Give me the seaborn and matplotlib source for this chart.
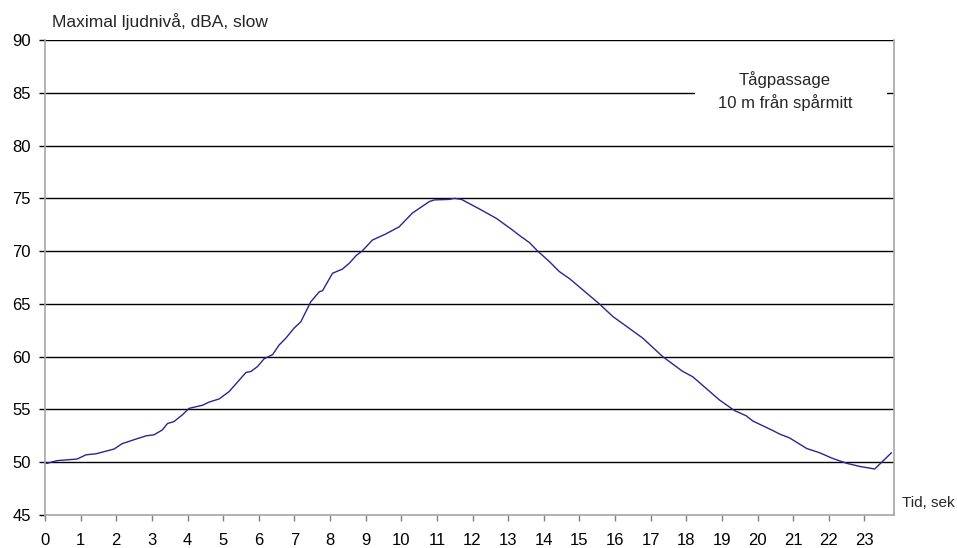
import matplotlib
matplotlib.use("Agg")
import matplotlib.pyplot as plt
import matplotlib.patches as mpatches
import seaborn as sns
import pandas as pd

# Data
time_s = [0.0, 0.06, 0.34, 0.9, 1.15, 1.43, 1.94, 2.16, 2.56, 2.84, 3.06, 3.29, 3.44, 3.62,
          3.86, 4.04, 4.42, 4.61, 4.89, 5.17, 5.64, 5.78, 5.96, 6.15, 6.39, 6.57, 6.76,
          6.99, 7.18, 7.46, 7.7, 7.79, 8.07, 8.35, 8.54, 8.74, 8.9, 9.19, 9.55, 9.94,
          10.31, 10.79, 10.93, 11.35, 11.49, 11.69, 12.19, 12.67, 13.12, 13.31, 13.6,
          13.83, 14.16, 14.44, 14.72, 15.56, 15.94, 16.31, 16.78, 17.34, 17.9, 18.18,
          18.93, 19.35, 19.68, 19.87, 20.43, 20.62, 20.9, 21.38, 21.74, 22.1, 22.5,
          22.87, 23.29, 23.5, 23.76]
level_dba = [49.9, 49.9, 50.15, 50.3, 50.7, 50.8, 51.25, 51.75, 52.2, 52.5, 52.6, 53.05, 53.67,
             53.85, 54.5, 55.1, 55.4, 55.7, 56.0, 56.7, 58.5, 58.6, 59.05, 59.8, 60.2, 61.1,
             61.75, 62.7, 63.3, 65.2, 66.15, 66.25, 67.9, 68.3, 68.85, 69.6, 70.0, 71.05,
             71.6, 72.3, 73.6, 74.7, 74.85, 74.9, 75.0, 74.9, 74.0, 73.1, 72.0, 71.5, 70.8,
             70.0, 69.0, 68.05, 67.4, 65.0, 63.8, 62.9, 61.75, 60.0, 58.6, 58.1, 55.9,
             54.9, 54.4, 53.9, 53.0, 52.67, 52.3, 51.3, 50.9, 50.37, 49.9, 49.6, 49.36,
             50.05, 50.9]
x_ticks = list(range(0, 24))
y_ticks = list(range(45, 91, 5))

df = pd.DataFrame({"t": time_s, "L": level_dba})

sns.set_theme(style="white")
plt.rcParams['font.family'] = ['Liberation Sans', 'DejaVu Sans']

W, H = 957, 548
fig = plt.figure(figsize=(W / 100, H / 100), dpi=100)
ax = fig.add_axes([45 / W, (H - 515) / H, (894 - 45) / W, (515 - 40) / H])

sns.lineplot(data=df, x="t", y="L", ax=ax, color="#33218f", linewidth=1.0)

ax.set_xlim(0, 23.83)
ax.set_ylim(45, 90)
ax.set_xticks(x_ticks)
ax.set_yticks(y_ticks)
ax.set_xticklabels([str(v) for v in x_ticks], fontsize=12)
ax.set_yticklabels([str(v) for v in y_ticks], fontsize=12)
ax.set_xlabel("")
ax.set_ylabel("")

for v in y_ticks[1:]:
    ax.axhline(v, color="black", linewidth=1.0, zorder=1)

for side in ["left", "right", "bottom"]:
    ax.spines[side].set_visible(True)
    ax.spines[side].set_color("#a6a6a6")
    ax.spines[side].set_linewidth(1.2)
ax.spines["top"].set_visible(False)

ax.tick_params(axis="x", direction="out", length=4, width=1, color="#808080",
               pad=9, bottom=True, labelcolor="black")
ax.tick_params(axis="y", direction="out", length=4, width=1, color="black",
               pad=6, left=True, labelcolor="black")

fig.text(52 / W, 1 - 22 / H, "Maximal ljudnivå, dBA, slow", fontsize=12.5,
         ha="left", va="center")
fig.text(902 / W, 1 - 503 / H, "Tid, sek", fontsize=11, ha="left", va="center")

# white panel behind the annotation that interrupts the 85 gridline
fig.add_artist(mpatches.Rectangle((695 / W, 1 - 120 / H), (887 - 695) / W, 55 / H,
                                  transform=fig.transFigure, facecolor="white",
                                  edgecolor="none", zorder=4))
fig.text(785 / W, 1 - 91 / H, "Tågpassage\n10 m från spårmitt",
         fontsize=12, ha="center", va="center", linespacing=1.45, zorder=5)

fig.savefig("out.png", dpi=100)
